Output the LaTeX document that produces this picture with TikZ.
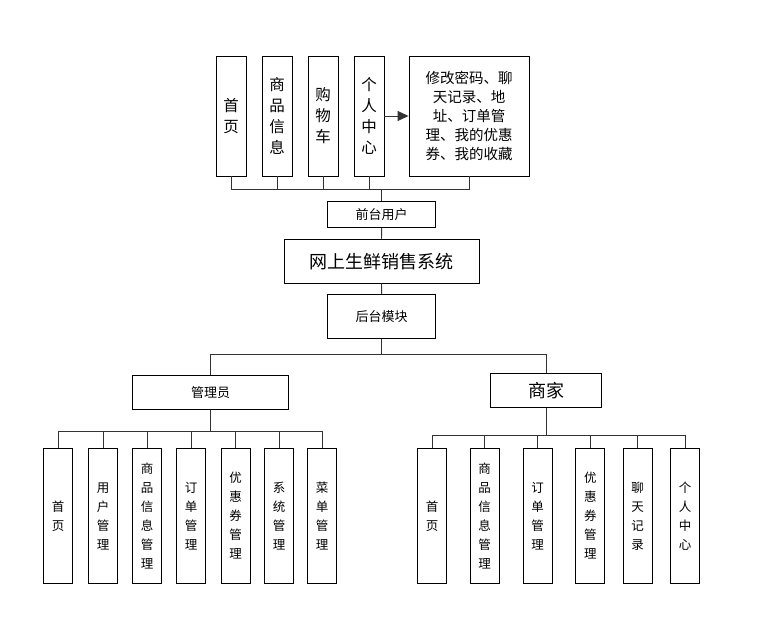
\documentclass[tikz,border=0pt]{standalone}
\usepackage{fontspec}
\newfontfamily\cjk{Noto Sans CJK SC}
\usetikzlibrary{arrows.meta}
\tikzset{
  box/.style={draw=black, line width=0.9pt, fill=white, inner sep=0pt, align=center},
  topv/.style={box, minimum width=30pt, minimum height=120pt, font=\cjk\fontsize{15.5}{21}\selectfont},
  kidv/.style={box, minimum width=29pt, minimum height=135pt, font=\cjk\fontsize{12.5}{19}\selectfont},
  link/.style={draw=black!80, line width=0.9pt},
}
\begin{document}
\begin{tikzpicture}[x=1pt,y=-1pt]
\useasboundingbox (0,0) rectangle (768,628);
% top row
\node[topv] (t1) at (231,116) {首\\页};
\node[topv] (t2) at (277,116) {商\\品\\信\\息};
\node[topv] (t3) at (323,116) {购\\物\\车};
\node[topv] (t4) at (369,116) {个\\人\\中\\心};
\node[box, minimum width=120pt, minimum height=120pt, font=\cjk\fontsize{14.5}{19}\selectfont] (t5) at (469,116)
  {修改密码、聊\\天记录、地\\址、订单管\\理、我的优惠\\券、我的收藏};
\draw[link, -{Triangle[length=11pt,width=10pt]}] (t4.east) -- (t5.west);
\coordinate (jt) at (381.7,189.3);
\foreach \n in {t1,t2,t3,t4,t5} \draw[link] (\n.south) |- (jt);
% middle
\node[box, minimum width=108pt, minimum height=26pt, font=\cjk\fontsize{13}{16}\selectfont] (qt) at (381.7,214.7) {前台用户};
\node[box, minimum width=195pt, minimum height=44pt, font=\cjk\fontsize{18}{22}\selectfont] (sys) at (381.5,261.2) {网上生鲜销售系统};
\node[box, minimum width=108pt, minimum height=44pt, font=\cjk\fontsize{13}{16}\selectfont] (ht) at (381.7,316.3) {后台模块};
\draw[link] (jt) -- (qt.north);
\draw[link] (qt.south) -- (sys.north);
\draw[link] (sys.south) -- (ht.north);
\coordinate (jb) at (381.7,354);
\draw[link] (ht.south) -- (jb);
% second level
\node[box, minimum width=155.6pt, minimum height=33.6pt, font=\cjk\fontsize{13}{16}\selectfont] (adm) at (210.5,392.5) {管理员};
\node[box, minimum width=110.3pt, minimum height=34pt, font=\cjk\fontsize{18}{22}\selectfont] (mer) at (546,390.3) {商家};
\draw[link] (jb) -| (adm.north);
\draw[link] (jb) -| (mer.north);
% admin children
\coordinate (ja) at (210.5,431);
\draw[link] (adm.south) -- (ja);
\node[kidv] (a1) at (58,516) {首\\页};
\node[kidv] (a2) at (103,516) {用\\户\\管\\理};
\node[kidv] (a3) at (147,516) {商\\品\\信\\息\\管\\理};
\node[kidv] (a4) at (191,516) {订\\单\\管\\理};
\node[kidv] (a5) at (235.5,516) {优\\惠\\券\\管\\理};
\node[kidv] (a6) at (279,516) {系\\统\\管\\理};
\node[kidv] (a7) at (322,516) {菜\\单\\管\\理};
\foreach \n in {a1,a2,a3,a4,a5,a6,a7} \draw[link] (ja) -| (\n.north);
% merchant children
\coordinate (jm) at (546,435.7);
\draw[link] (mer.south) -- (jm);
\node[kidv] (m1) at (432,516) {首\\页};
\node[kidv] (m2) at (484.7,516) {商\\品\\信\\息\\管\\理};
\node[kidv] (m3) at (537.5,516) {订\\单\\管\\理};
\node[kidv] (m4) at (590.3,516) {优\\惠\\券\\管\\理};
\node[kidv] (m5) at (637.5,516) {聊\\天\\记\\录};
\node[kidv] (m6) at (685,516) {个\\人\\中\\心};
\foreach \n in {m1,m2,m3,m4,m5,m6} \draw[link] (jm) -| (\n.north);
\end{tikzpicture}
\end{document}
